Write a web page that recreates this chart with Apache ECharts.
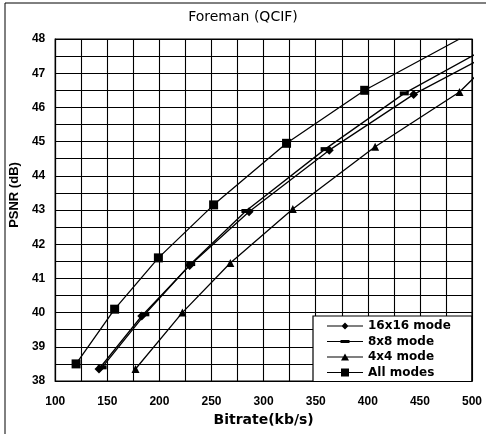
<!DOCTYPE html>
<html>
<head>
<meta charset="utf-8">
<script src="https://cdn.jsdelivr.net/npm/echarts@6/dist/echarts.min.js"></script>
<style>html,body{margin:0;padding:0;background:#fff;}#c{width:486px;height:434px;}</style>
</head>
<body>
<div id="c"></div>
<script>
const xTicks = [100, 150, 200, 250, 300, 350, 400, 450, 500];
const yTicks = [38, 39, 40, 41, 42, 43, 44, 45, 46, 47, 48];
const seriesNames = ['16x16 mode', '8x8 mode', '4x4 mode', 'All modes'];
const mode16x16 = [[142, 38.35], [183, 39.9], [229, 41.38], [286, 42.95], [363, 44.75], [444, 46.38]];
const mode16x16Tail = [503, 47.33];
const mode8x8 = [[145, 38.4], [186, 39.95], [230, 41.42], [283, 42.97], [359, 44.78], [435, 46.41]];
const mode8x8Tail = [503, 47.55];
const mode4x4 = [[177, 38.35], [222, 40.0], [268, 41.45], [328, 43.03], [407, 44.85], [488, 46.45]];
const mode4x4Tail = [503, 46.9];
const allModes = [[120, 38.5], [157, 40.1], [199, 41.6], [252, 43.15], [322, 44.95], [397, 46.5]];
const allModesTail = [488, 48.0];

function withTail(pts, tail) {
  return pts.map(p => ({ value: p })).concat([{ value: tail, symbol: 'none' }]);
}

// legend icons: a line with the series marker in the middle (36 x 8 box)
const box = 'M0,0L0.01,0L0.01,0.01ZM36,8L35.99,8L35.99,7.99Z';
const lineBar = 'M0,3.4L36,3.4L36,4.6L0,4.6Z';
const icons = {
  '16x16 mode': 'path://' + box + lineBar + 'M18,0.5L21.5,4L18,7.5L14.5,4Z',
  '8x8 mode': 'path://' + box + lineBar + 'M13.5,2.5L22.5,2.5L22.5,5.5L13.5,5.5Z',
  '4x4 mode': 'path://' + box + lineBar + 'M18,0.5L22,7.5L14,7.5Z',
  'All modes': 'path://' + box + lineBar + 'M14,0L22,0L22,8L14,8Z'
};

const chart = echarts.init(document.getElementById('c'), null, { renderer: 'canvas' });
const lineStyle = { color: '#000', width: 1.3 };
function mk(name, data, symbol, size) {
  return {
    name: name, type: 'line', data: data, symbol: symbol, symbolSize: size,
    showSymbol: true, clip: false,
    lineStyle: lineStyle, itemStyle: { color: '#000', borderWidth: 0 },
    emphasis: { disabled: true }, animation: false, z: 3
  };
}
chart.setOption({
  animation: false,
  backgroundColor: '#fff',
  title: {
    text: 'Foreman (QCIF)', left: 'center', top: 5,
    textStyle: { fontFamily: 'DejaVu Sans', fontSize: 14, fontWeight: 'normal', color: '#000' }
  },
  grid: { left: 53, right: 14, top: 39, bottom: 53, show: true, borderColor: '#000', borderWidth: 1.2 },
  legend: {
    data: seriesNames.map(n => ({ name: n, icon: icons[n] })),
    orient: 'vertical', left: 313, top: 316,
    itemWidth: 36, itemHeight: 8, itemGap: 3.5,
    padding: [4, 21, 3, 14],
    backgroundColor: '#fff', borderColor: '#000', borderWidth: 1.2,
    textStyle: { fontFamily: 'DejaVu Sans', fontSize: 12, fontWeight: 'bold', color: '#000' },
    selectedMode: false
  },
  xAxis: {
    type: 'value', min: 100, max: 500, interval: 25,
    name: 'Bitrate(kb/s)', nameLocation: 'middle', nameGap: 29,
    nameTextStyle: { fontFamily: 'DejaVu Sans', fontSize: 14, fontWeight: 'bold', color: '#000' },
    axisLine: { show: true, lineStyle: { color: '#000', width: 1.2 } },
    axisTick: { show: false },
    axisLabel: {
      margin: 15, fontFamily: 'Liberation Sans', fontSize: 12, fontWeight: 'bold', color: '#000',
      formatter: v => (xTicks.indexOf(v) >= 0 ? String(v) : '')
    },
    splitLine: { show: true, lineStyle: { color: '#000', width: 1.1 } }
  },
  yAxis: {
    type: 'value', min: 38, max: 48, interval: 0.5,
    name: 'PSNR (dB)', nameLocation: 'middle', nameGap: 31,
    nameTextStyle: { fontFamily: 'Liberation Sans', fontSize: 13, fontWeight: 'bold', color: '#000', padding: [0, 0, 0, 30] },
    axisLine: { show: true, lineStyle: { color: '#000', width: 1.2 } },
    axisTick: { show: false },
    axisLabel: {
      margin: 10, fontFamily: 'Liberation Sans', fontSize: 12, fontWeight: 'bold', color: '#000',
      formatter: v => (yTicks.indexOf(v) >= 0 ? String(v) : '')
    },
    splitLine: { show: true, lineStyle: { color: '#000', width: 1.1 } }
  },
  graphic: [
    { type: 'line', shape: { x1: 5, y1: 3, x2: 5, y2: 434 }, style: { stroke: '#000', lineWidth: 1 } },
    { type: 'line', shape: { x1: 5, y1: 3, x2: 486, y2: 3 }, style: { stroke: '#000', lineWidth: 1 } }
  ],
  series: [
    mk('16x16 mode', withTail(mode16x16, mode16x16Tail), 'diamond', 9),
    mk('8x8 mode', withTail(mode8x8, mode8x8Tail), 'rect', [9, 4]),
    mk('4x4 mode', withTail(mode4x4, mode4x4Tail), 'triangle', 8),
    mk('All modes', withTail(allModes, allModesTail), 'rect', 9)
  ]
});
</script>
</body>
</html>
